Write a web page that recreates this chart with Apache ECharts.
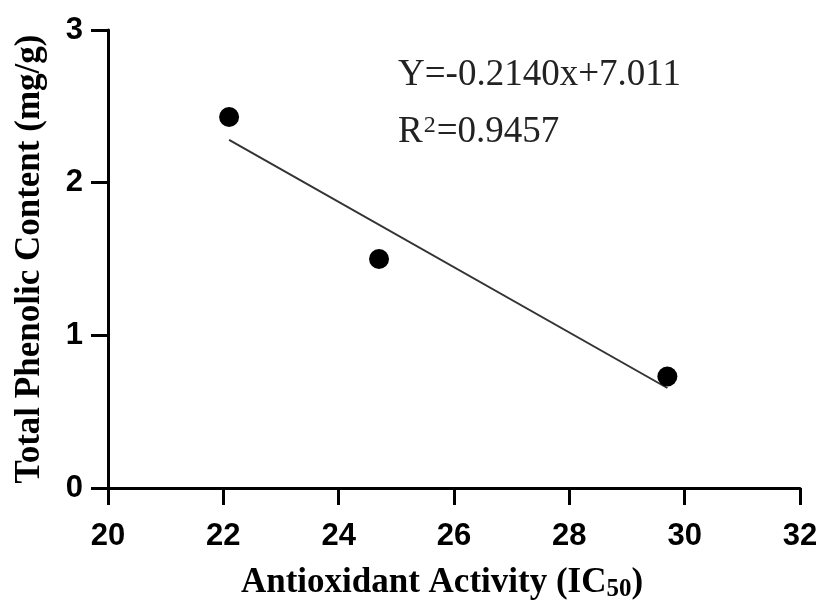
<!DOCTYPE html>
<html>
<head>
<meta charset="utf-8">
<script src="https://cdn.jsdelivr.net/npm/echarts@6/dist/echarts.min.js"></script>
<style>
  html, body { margin: 0; padding: 0; background: #fff; }
</style>
</head>
<body>
<div id="chart" style="width: 819px; height: 607px;"></div>
<script>
// measured points (IC50, phenolic content)
var points = [[22.1, 2.43], [24.7, 1.50], [29.7, 0.73]];
// fitted line endpoints
var fitLine = [[22.1, 2.28], [29.7, 0.655]];
var xTicks = { min: 20, max: 32, step: 2 };
var yTicks = { min: 0, max: 3, step: 1 };
var eqText = 'Y=-0.2140x+7.011';
var r2Text = '=0.9457';

var myChart = echarts.init(document.getElementById('chart'));

var axisStyle = {
  axisLine: { show: true, lineStyle: { color: '#000', width: 3 } },
  axisTick: { show: true, inside: false, length: 17, lineStyle: { color: '#000', width: 3 } },
  splitLine: { show: false }
};

myChart.setOption({
  animation: false,
  grid: { left: 108, right: 19, top: 30, bottom: 119, outerBoundsMode: 'none' },
  xAxis: Object.assign({
    type: 'value',
    min: xTicks.min,
    max: xTicks.max,
    interval: xTicks.step,
    name: '{b|Antioxidant Activity (IC}{s|50}{b|)}',
    nameLocation: 'middle',
    nameGap: 76,
    nameTextStyle: {
      padding: [0, 24, 0, 0],
      rich: {
        b: { fontFamily: 'Liberation Serif', fontWeight: 'bold', fontSize: 35, lineHeight: 38, color: '#000' },
        s: { fontFamily: 'Liberation Serif', fontWeight: 'bold', fontSize: 25, lineHeight: 20, color: '#000', verticalAlign: 'bottom' }
      }
    },
    axisLabel: {
      margin: 33,
      fontFamily: 'Liberation Sans',
      fontWeight: 'bold',
      fontSize: 31,
      color: '#000'
    }
  }, axisStyle),
  yAxis: Object.assign({
    type: 'value',
    min: yTicks.min,
    max: yTicks.max,
    interval: yTicks.step,
    name: 'Total Phenolic Content (mg/g)',
    nameLocation: 'middle',
    nameGap: 61,
    nameTextStyle: {
      fontFamily: 'Liberation Serif',
      fontWeight: 'bold',
      fontSize: 35,
      color: '#000'
    },
    axisLabel: {
      margin: 25,
      fontFamily: 'Liberation Sans',
      fontWeight: 'bold',
      fontSize: 31,
      color: '#000'
    }
  }, axisStyle),
  graphic: [
    {
      type: 'text',
      left: 398,
      top: 57,
      style: {
        text: eqText,
        fontFamily: 'Liberation Serif',
        fontSize: 37,
        fill: '#222'
      }
    },
    {
      type: 'text',
      left: 398,
      top: 114,
      style: {
        text: '{n|R}{p|2}{n|' + r2Text + '}',
        rich: {
          n: { fontFamily: 'Liberation Serif', fontSize: 37, lineHeight: 37, fill: '#222' },
          p: { fontFamily: 'Liberation Serif', fontSize: 24, lineHeight: 24, fill: '#222', verticalAlign: 'top', padding: [0, 1, 0, 1] }
        }
      }
    }
  ],
  series: [
    {
      type: 'line',
      data: fitLine,
      symbol: 'none',
      lineStyle: { color: '#333', width: 2 },
      z: 1
    },
    {
      type: 'scatter',
      data: points,
      symbol: 'circle',
      symbolSize: 20,
      itemStyle: { color: '#000', opacity: 1 },
      z: 2
    }
  ]
});
</script>
</body>
</html>
